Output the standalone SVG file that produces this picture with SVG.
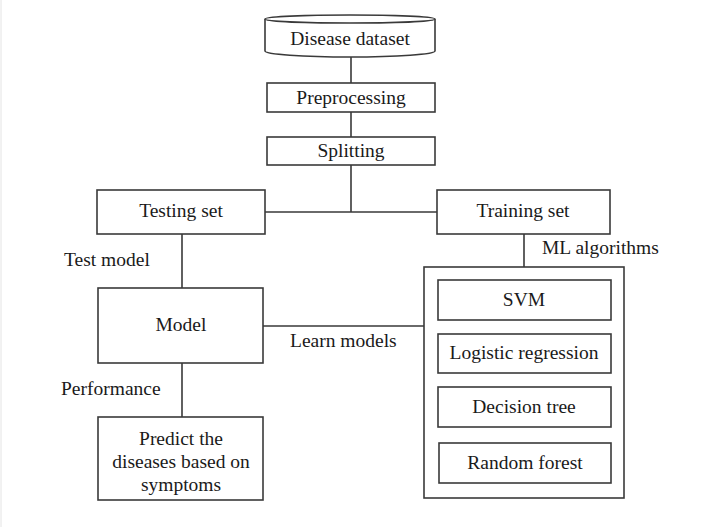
<svg xmlns="http://www.w3.org/2000/svg" width="716" height="527" viewBox="0 0 716 527">
<style>
.b{fill:#fff;stroke:#3a3a3a;stroke-width:1.6}
.c{fill:none;stroke:#3a3a3a;stroke-width:1.6}
.t{font-family:'Liberation Serif','Times New Roman',serif;font-size:19.5px;fill:#1a1a1a}
.m{text-anchor:middle}
</style>
<rect width="716" height="527" fill="#fff"/>
<line x1="1" y1="0" x2="1" y2="527" stroke="#e4e4e4" stroke-width="1"/>
<g id="connectors">
<path class="c" d="M351 57V83M351 112V137M351 165V212M265 212H437M182 234V288M524 234V267M263 326H424M182 363V417"/>
</g>
<g class="t">
<g id="disease-dataset">
<path class="b" d="M265 19V51A85 6 0 0 0 435 51V19"/>
<ellipse class="b" cx="350" cy="19" rx="85" ry="4"/>
<text class="m" x="350" y="45">Disease dataset</text>
</g>
<g id="preprocessing"><rect class="b" x="267" y="83" width="168" height="29"/><text class="m" x="351" y="104">Preprocessing</text></g>
<g id="splitting"><rect class="b" x="267" y="137" width="168" height="28"/><text class="m" x="351" y="157">Splitting</text></g>
<g id="testing-set"><rect class="b" x="97" y="190" width="168" height="44"/><text class="m" x="181" y="217">Testing set</text></g>
<g id="training-set"><rect class="b" x="437" y="190" width="173" height="44"/><text class="m" x="523" y="217">Training set</text></g>
<g id="model"><rect class="b" x="98" y="288" width="165" height="75"/><text class="m" x="181" y="331">Model</text></g>
<g id="predict"><rect class="b" x="98" y="417" width="165" height="83"/>
<text class="m" x="181" y="445">Predict the</text><text class="m" x="181" y="468">diseases based on</text><text class="m" x="181" y="491">symptoms</text></g>
<g id="ml-algorithms">
<rect class="b" x="424" y="267" width="200" height="231"/>
<g id="svm"><rect class="b" x="438" y="280" width="173" height="40"/><text class="m" x="524" y="306">SVM</text></g>
<g id="logistic-regression"><rect class="b" x="438" y="334" width="173" height="39"/><text class="m" x="524" y="359">Logistic regression</text></g>
<g id="decision-tree"><rect class="b" x="438" y="387" width="173" height="40"/><text class="m" x="524" y="413">Decision tree</text></g>
<g id="random-forest"><rect class="b" x="439" y="443" width="172" height="40"/><text class="m" x="525" y="469">Random forest</text></g>
</g>
<g id="labels">
<text x="64" y="266">Test model</text>
<text x="542" y="254">ML algorithms</text>
<text x="290" y="347">Learn models</text>
<text x="61" y="395">Performance</text>
</g>
</g>
</svg>
